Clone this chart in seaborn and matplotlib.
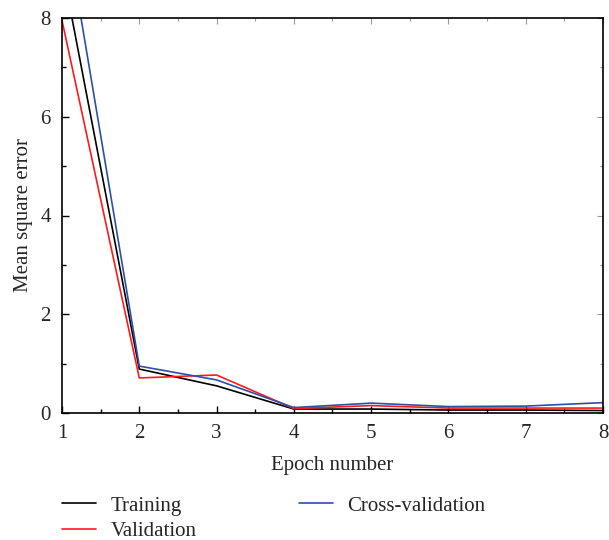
import numpy as np
import pandas as pd
import matplotlib
matplotlib.use("Agg")
import matplotlib.pyplot as plt
import seaborn as sns
from matplotlib.ticker import MultipleLocator

epochs = [1, 2, 3, 4, 5, 6, 7, 8]
training = [9.05, 0.89, 0.55, 0.08, 0.08, 0.06, 0.06, 0.05]
validation = [7.95, 0.71, 0.77, 0.09, 0.15, 0.10, 0.10, 0.10]
cross_validation = [10.3, 0.95, 0.67, 0.11, 0.20, 0.13, 0.14, 0.21]
series_names = ["Training", "Validation", "Cross-validation"]
colors = ["#000000", "#ff1a1a", "#2e4fa8"]

df = pd.DataFrame({
    "epoch": epochs * 3,
    "mse": training + validation + cross_validation,
    "series": [series_names[0]] * 8 + [series_names[1]] * 8 + [series_names[2]] * 8,
})

sns.set_theme(style="ticks")
plt.rcParams["font.family"] = ["Liberation Serif", "DejaVu Serif"]

fig = plt.figure(figsize=(6.09, 5.40), dpi=100)
ax = fig.add_axes([62 / 609, 1 - 413 / 540, 541 / 609, 395 / 540])

sns.lineplot(data=df, x="epoch", y="mse", hue="series", hue_order=series_names,
             palette=colors, linewidth=1.2, ax=ax, legend=False)

ax.set_xlim(1, 8)
ax.set_ylim(0, 8)
ax.xaxis.set_major_locator(MultipleLocator(1))
ax.xaxis.set_minor_locator(MultipleLocator(0.5))
ax.yaxis.set_major_locator(MultipleLocator(2))
ax.yaxis.set_minor_locator(MultipleLocator(1))
ax.tick_params(which="both", direction="in", labelsize=15, width=1, color="black")
ax.tick_params(which="major", length=5, pad=8)
ax.tick_params(which="minor", length=3)

# faint ticks on top and right
sec = ax.secondary_xaxis("top")
sec.xaxis.set_major_locator(MultipleLocator(1))
sec.xaxis.set_minor_locator(MultipleLocator(0.5))
sec.tick_params(which="both", direction="in", labeltop=False, color="#999999", width=0.8)
sec.tick_params(which="major", length=4)
sec.tick_params(which="minor", length=2)
sec.spines["top"].set_visible(False)
sec = ax.secondary_yaxis("right")
sec.yaxis.set_major_locator(MultipleLocator(2))
sec.yaxis.set_minor_locator(MultipleLocator(1))
sec.tick_params(which="both", direction="in", labelright=False, color="#999999", width=0.8)
sec.tick_params(which="major", length=4)
sec.tick_params(which="minor", length=2)
sec.spines["right"].set_visible(False)

for s in ax.spines.values():
    s.set_linewidth(1.2)
    s.set_color("black")
ax.set_xlabel("Epoch number", fontsize=15, labelpad=9)
ax.set_ylabel("Mean square error", fontsize=15, labelpad=5)

handles = [plt.Line2D([], [], color=c, lw=1.2) for c in colors]
ax.legend(handles, series_names, ncol=2, frameon=False, fontsize=15,
          loc="upper left", bbox_to_anchor=(0.0, -0.21), handlelength=1.65,
          handletextpad=0.68, columnspacing=4.9, labelspacing=0.3,
          borderaxespad=0, borderpad=0)

fig.savefig("out.png", dpi=100)
